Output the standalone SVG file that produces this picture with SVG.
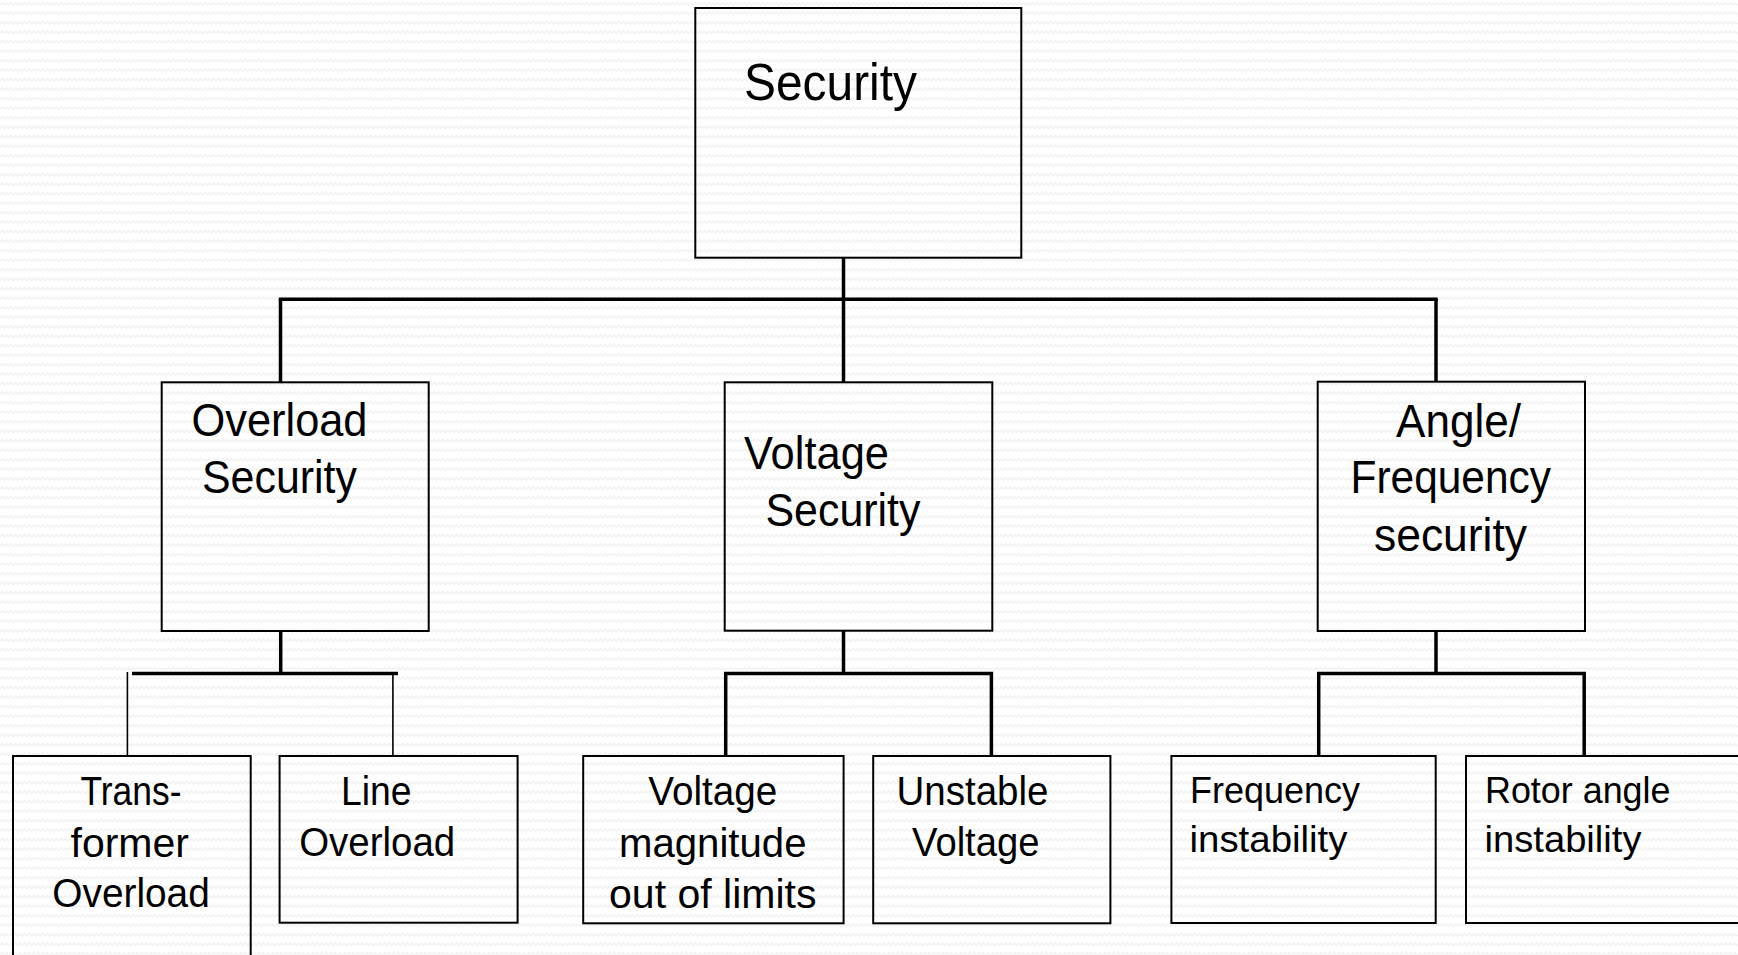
<svg xmlns="http://www.w3.org/2000/svg" width="1738" height="955" viewBox="0 0 1738 955">
  <defs>
    <pattern id="bg" x="0" y="0" width="9" height="9.5" patternUnits="userSpaceOnUse">
      <rect width="9" height="9.5" fill="#ffffff"/>
      <polyline points="0,5 2.25,2.5 4.5,5 6.75,2.5 9,5" fill="none" stroke="#ededed" stroke-width="1"/>
    </pattern>
    <style>
      .box { fill: none; stroke: #000; stroke-width: 2; }
      .thick { fill: none; stroke: #000; stroke-width: 3.5; stroke-linecap: butt; }
      .thin { fill: none; stroke: #000; stroke-width: 1.6; }
      text { font-family: "Liberation Sans", Arial, sans-serif; fill: #000; }
      .t1 { font-size: 52px; }
      .t2 { font-size: 46px; }
      .t3 { font-size: 40px; }
      .t4 { font-size: 37px; }
    </style>
  </defs>
  <rect x="0" y="0" width="1738" height="955" fill="url(#bg)"/>

  <g id="connectors">
    <line class="thick" x1="843.5" y1="258" x2="843.5" y2="382"/>
    <line class="thick" x1="278.8" y1="299.3" x2="1437.7" y2="299.3"/>
    <line class="thick" x1="280.5" y1="299" x2="280.5" y2="382"/>
    <line class="thick" x1="1436" y1="299" x2="1436" y2="382"/>

    <line class="thick" x1="280.7" y1="631" x2="280.7" y2="673.5"/>
    <line class="thick" x1="132" y1="673.5" x2="398" y2="673.5"/>
    <line class="thin" x1="127.4" y1="672" x2="127.4" y2="756"/>
    <line class="thin" x1="392.9" y1="672" x2="392.9" y2="756"/>

    <line class="thick" x1="843.5" y1="631" x2="843.5" y2="673.5"/>
    <polyline class="thick" points="725.7,756 725.7,673.5 991.4,673.5 991.4,756"/>

    <line class="thick" x1="1436" y1="631" x2="1436" y2="673.5"/>
    <polyline class="thick" points="1318.7,756 1318.7,673.5 1584.2,673.5 1584.2,756"/>
  </g>

  <g id="security">
    <rect class="box" x="695.3" y="8" width="326" height="249.7"/>
    <text class="t1" x="744" y="100" textLength="173" lengthAdjust="spacingAndGlyphs">Security</text>
  </g>

  <g id="overload-security">
    <rect class="box" x="161.7" y="382.3" width="267" height="248.7"/>
    <text class="t2" x="191.5" y="436" textLength="176" lengthAdjust="spacingAndGlyphs">Overload</text>
    <text class="t2" x="202" y="493" textLength="155" lengthAdjust="spacingAndGlyphs">Security</text>
  </g>

  <g id="voltage-security">
    <rect class="box" x="724.7" y="382.3" width="267.6" height="248.4"/>
    <text class="t2" x="744" y="469" textLength="145" lengthAdjust="spacingAndGlyphs">Voltage</text>
    <text class="t2" x="765.5" y="526" textLength="155" lengthAdjust="spacingAndGlyphs">Security</text>
  </g>

  <g id="angle-frequency-security">
    <rect class="box" x="1317.7" y="381.7" width="267.3" height="249.3"/>
    <text class="t2" x="1396" y="436.7" textLength="125" lengthAdjust="spacingAndGlyphs">Angle/</text>
    <text class="t2" x="1350.5" y="493.3" textLength="200.5" lengthAdjust="spacingAndGlyphs">Frequency</text>
    <text class="t2" x="1374" y="550.7" textLength="153" lengthAdjust="spacingAndGlyphs">security</text>
  </g>

  <g id="transformer-overload">
    <rect class="box" x="13" y="756" width="237.7" height="220"/>
    <text class="t3" x="80.5" y="805" textLength="101" lengthAdjust="spacingAndGlyphs">Trans-</text>
    <text class="t3" x="70.5" y="856.7" textLength="118.5" lengthAdjust="spacingAndGlyphs">former</text>
    <text class="t3" x="52.3" y="906.7" textLength="157.5" lengthAdjust="spacingAndGlyphs">Overload</text>
  </g>

  <g id="line-overload">
    <rect class="box" x="279.6" y="756" width="238" height="166.7"/>
    <text class="t3" x="341" y="805" textLength="70.5" lengthAdjust="spacingAndGlyphs">Line</text>
    <text class="t3" x="299.2" y="856" textLength="156" lengthAdjust="spacingAndGlyphs">Overload</text>
  </g>

  <g id="voltage-magnitude">
    <rect class="box" x="583.2" y="756" width="260.4" height="167.3"/>
    <text class="t3" x="648.3" y="805" textLength="129" lengthAdjust="spacingAndGlyphs">Voltage</text>
    <text class="t3" x="619" y="856.7" textLength="187.5" lengthAdjust="spacingAndGlyphs">magnitude</text>
    <text class="t3" x="609" y="907.7" textLength="207.5" lengthAdjust="spacingAndGlyphs">out of limits</text>
  </g>

  <g id="unstable-voltage">
    <rect class="box" x="873.2" y="756" width="237.2" height="167.3"/>
    <text class="t3" x="896.5" y="805" textLength="152" lengthAdjust="spacingAndGlyphs">Unstable</text>
    <text class="t3" x="912" y="856" textLength="127.5" lengthAdjust="spacingAndGlyphs">Voltage</text>
  </g>

  <g id="frequency-instability">
    <rect class="box" x="1171.4" y="756" width="264.3" height="167"/>
    <text class="t4" x="1190" y="803.3" textLength="170" lengthAdjust="spacingAndGlyphs">Frequency</text>
    <text class="t4" x="1189.5" y="851.7" textLength="158" lengthAdjust="spacingAndGlyphs">instability</text>
  </g>

  <g id="rotor-angle-instability">
    <rect class="box" x="1466" y="756" width="300" height="167"/>
    <text class="t4" x="1485" y="803.3" textLength="185.5" lengthAdjust="spacingAndGlyphs">Rotor angle</text>
    <text class="t4" x="1484.5" y="851.7" textLength="157" lengthAdjust="spacingAndGlyphs">instability</text>
  </g>
</svg>
